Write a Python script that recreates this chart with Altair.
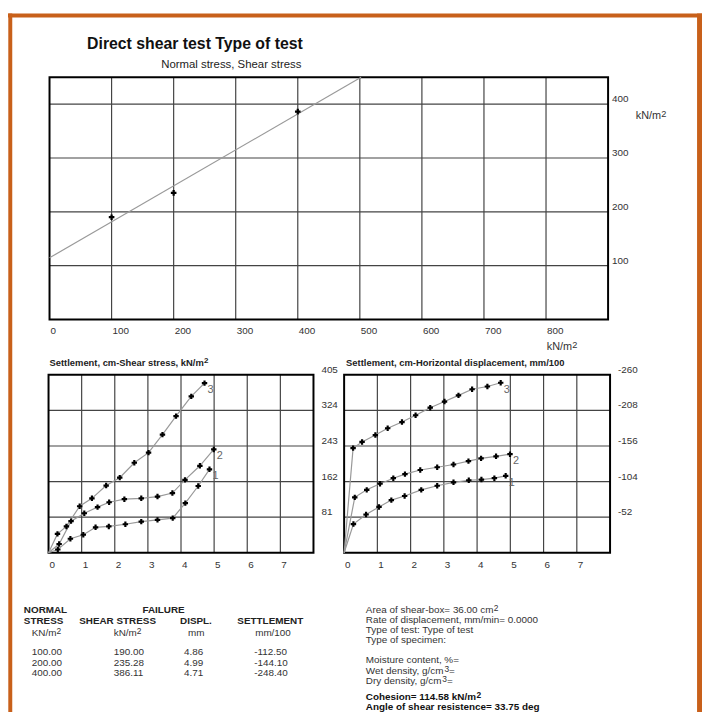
import altair as alt
import pandas as pd

# ---------------- data ----------------
normal_stress = [100.0, 200.0, 400.0]
failure_shear = [190.00, 235.28, 386.11]
failure_displ = [4.86, 4.99, 4.71]
failure_settle = [-112.50, -144.10, -248.40]
cohesion = 114.58
friction_angle = 33.75
shear_box_area = 36.00
rate_displ = 0.0

# failure envelope
fit_x = [0, 502]
fit_y = [114.58, 450]

# displacement readings (mm) per specimen
d1 = [0, 0.28, 0.66, 1.05, 1.42, 1.82, 2.32, 2.80, 3.29, 3.75, 4.13, 4.52, 4.86]
d2 = [0, 0.32, 0.68, 1.08, 1.48, 1.83, 2.29, 2.80, 3.29, 3.74, 4.12, 4.57, 4.99]
d3 = [0, 0.27, 0.54, 0.94, 1.31, 1.74, 2.15, 2.59, 3.02, 3.44, 3.85, 4.31, 4.71]
# shear stress kN/m2
s1 = [0, 7.5, 32, 41, 58, 60, 65, 71, 75, 79, 113, 152, 190.00]
s2 = [0, 20, 72, 90, 104, 115, 122, 124, 128, 136, 166, 198, 235.28]
s3 = [0, 43, 60, 106, 124, 153, 171, 205, 228, 269, 311, 356, 386.11]
# settlement mm/100
v1 = [0, -42, -56, -67, -77, -83, -92, -98, -103, -106, -107, -109, -112.50]
v2 = [0, -81, -92, -101, -109, -115, -121, -125, -129, -134, -138, -141, -144.10]
v3 = [0, -153, -162, -172, -182, -191, -201, -212, -221, -230, -239, -243, -248.40]
curve_ids = ["1", "2", "3"]

top_x_ticks = [0, 100, 200, 300, 400, 500, 600, 700, 800]
top_x_grid = [100, 200, 300, 400, 500, 600, 700, 800]
top_y_ticks = [100, 200, 300, 400]
bl_x_ticks = [0, 1, 2, 3, 4, 5, 6, 7]
bl_y_ticks = [81, 162, 243, 324, 405]
br_y_ticks = [-52, -104, -156, -208, -260]

# ---------------- style ----------------
FONT = "Liberation Sans"
GRID = "#444444"
TXT = "#333333"
ORANGE = "#C8601A"
W, H = 702, 708

TOP = dict(xd=[0, 900], yd=[0, 450], xr=[42, 607], yr=[311, 66])
BL = dict(xd=[0, 8], yd=[0, 405], xr=[41, 309], yr=[547, 367])
BR = dict(xd=[0, 8], yd=[-260, 0], xr=[340, 609], yr=[367, 547])

ONE = pd.DataFrame({"k": [0]})

# approximate Arial / Liberation Sans advance widths (per 1000 em)
REG = {" ": 278, "!": 278, "%": 889, ",": 278, "-": 333, ".": 278, "/": 278, ":": 278, "=": 584,
       "A": 667, "C": 722, "D": 722, "K": 667, "M": 833, "N": 722, "R": 722, "S": 667, "T": 611, "W": 944,
       "a": 556, "b": 556, "c": 500, "d": 556, "e": 556, "f": 278, "g": 556, "h": 556, "i": 222,
       "k": 500, "l": 222, "m": 833, "n": 556, "o": 556, "p": 556, "r": 333, "s": 500, "t": 278,
       "u": 556, "v": 500, "w": 722, "x": 500, "y": 500, "z": 500}
BOLD = {" ": 278, ",": 278, "-": 333, ".": 278, "/": 278, ":": 333, "=": 584,
        "A": 722, "C": 722, "H": 722, "N": 722, "S": 667, "K": 722,
        "a": 556, "c": 556, "d": 611, "e": 556, "f": 333, "g": 611, "h": 611, "i": 278, "k": 556,
        "l": 278, "m": 889, "n": 611, "o": 611, "p": 611, "r": 389, "s": 556, "t": 333, "u": 611,
        "y": 556, "z": 500}


def text_width(s, size, bold):
    tab = BOLD if bold else REG
    return sum(tab.get(ch, 556) for ch in s) * size / 1000.0


def xs(p):
    return alt.Scale(domain=p["xd"], range=p["xr"], nice=False, zero=False)


def ys(p):
    return alt.Scale(domain=p["yd"], range=p["yr"], nice=False, zero=False)


def grid(p, xg, yg):
    layers = []
    dv = pd.DataFrame({"v": xg, "lo": [p["yd"][0]] * len(xg), "hi": [p["yd"][1]] * len(xg)})
    layers.append(alt.Chart(dv).mark_rule(color=GRID, strokeWidth=1.2).encode(
        x=alt.X("v:Q", scale=xs(p), axis=None),
        y=alt.Y("lo:Q", scale=ys(p), axis=None), y2="hi:Q"))
    dh = pd.DataFrame({"v": yg, "lo": [p["xd"][0]] * len(yg), "hi": [p["xd"][1]] * len(yg)})
    layers.append(alt.Chart(dh).mark_rule(color=GRID, strokeWidth=1.2).encode(
        y=alt.Y("v:Q", scale=ys(p), axis=None),
        x=alt.X("lo:Q", scale=xs(p), axis=None), x2="hi:Q"))
    db = pd.DataFrame({"x0": [p["xd"][0]], "x1": [p["xd"][1]], "y0": [p["yd"][0]], "y1": [p["yd"][1]]})
    layers.append(alt.Chart(db).mark_rect(fillOpacity=0, stroke="black", strokeWidth=2).encode(
        x=alt.X("x0:Q", scale=xs(p), axis=None), x2="x1:Q",
        y=alt.Y("y0:Q", scale=ys(p), axis=None), y2="y1:Q"))
    return layers


def xlabels(p, ticks, ypix):
    df = pd.DataFrame({"v": ticks, "t": [str(t) for t in ticks]})
    return alt.Chart(df).mark_text(font=FONT, fontSize=10, color=TXT, align="left",
                                   baseline="middle", dx=1).encode(
        x=alt.X("v:Q", scale=xs(p), axis=None), y=alt.value(ypix), text="t:N")


def ylabels(p, ticks, xpix):
    df = pd.DataFrame({"v": ticks, "t": [str(t) for t in ticks]})
    return alt.Chart(df).mark_text(font=FONT, fontSize=10, color=TXT, align="left",
                                   baseline="middle", dy=-5).encode(
        y=alt.Y("v:Q", scale=ys(p), axis=None), x=alt.value(xpix), text="t:N")


def label(text, x, y, size=10, bold=False, color=TXT, align="left"):
    return alt.Chart(ONE).mark_text(text=text, font=FONT, fontSize=size,
                                    fontWeight="bold" if bold else "normal",
                                    color=color, align=align, baseline="middle").encode(
        x=alt.value(x), y=alt.value(y))


def rich(parts, x, y, size=10, bold=False, color=TXT):
    """parts: list of (text, is_superscript)."""
    out = []
    cx = x
    for t, sup in parts:
        sz = size * 0.85 if sup else size
        yy = y - 2 if sup else y
        out.append(label(t, cx, yy, size=sz, bold=bold, color=color))
        cx += text_width(t, sz, bold)
    return out


def curves(p, xs_list, ys_list):
    rows = []
    for cid, xv, yv in zip(curve_ids, xs_list, ys_list):
        for i, (a, b) in enumerate(zip(xv, yv)):
            rows.append({"c": cid, "i": i, "x": a, "y": b})
    df = pd.DataFrame(rows)
    enc = dict(x=alt.X("x:Q", scale=xs(p), axis=None), y=alt.Y("y:Q", scale=ys(p), axis=None))
    line = alt.Chart(df).mark_line(color="#999999", strokeWidth=1.2).encode(
        detail="c:N", order="i:Q", **enc)
    pts = alt.Chart(df).transform_filter("datum.i > 0").mark_point(
        shape="cross", filled=True, size=30, color="black", opacity=1).encode(**enc)
    ends = alt.Chart(df).transform_filter("datum.i == 12").mark_text(
        font=FONT, fontSize=11, color="#666666", align="left", baseline="middle", dx=3, dy=7).encode(
        text="c:N", **enc)
    return [line, pts, ends]


layers = []

# orange page frame
for (x0, x1, y0, y1) in [(0, W, 1.5, 5.5), (0.3, 4.3, 1.5, H), (697, 702, 1.5, H)]:
    layers.append(alt.Chart(ONE).mark_rect(color=ORANGE).encode(
        x=alt.value(x0), x2=alt.value(x1), y=alt.value(y0), y2=alt.value(y1)))

# ---- top chart ----
layers += grid(TOP, top_x_grid, top_y_ticks)
fit_df = pd.DataFrame({"x": fit_x, "y": fit_y})
layers.append(alt.Chart(fit_df).mark_line(color="#999999", strokeWidth=1.2).encode(
    x=alt.X("x:Q", scale=xs(TOP), axis=None), y=alt.Y("y:Q", scale=ys(TOP), axis=None)))
pts_df = pd.DataFrame({"x": normal_stress, "y": failure_shear})
layers.append(alt.Chart(pts_df).mark_point(shape="cross", filled=True, size=32, color="black", opacity=1).encode(
    x=alt.X("x:Q", scale=xs(TOP), axis=None), y=alt.Y("y:Q", scale=ys(TOP), axis=None)))
layers.append(xlabels(TOP, top_x_ticks, 323))
layers.append(ylabels(TOP, top_y_ticks, 611))
layers += rich([("kN/m", False), ("2", True)], 635, 105, size=11)
layers += rich([("kN/m", False), ("2", True)], 545, 339, size=11)
layers.append(label("Direct shear test Type of test", 80, 32, size=16, bold=True, color="#111111"))
layers.append(label("Normal stress, Shear stress", 155, 54, size=11.5, color="#222222"))

# ---- bottom-left chart ----
layers += grid(BL, bl_x_ticks[1:], bl_y_ticks[:-1])
layers += curves(BL, [d1, d2, d3], [s1, s2, s3])
layers.append(xlabels(BL, bl_x_ticks, 559))
layers.append(ylabels(BL, bl_y_ticks, 317))
layers += rich([("Settlement, cm-Shear stress, kN/m", False), ("2", True)], 42, 355, size=9.5,
               bold=True, color="#222222")

# ---- bottom-right chart ----
layers += grid(BR, bl_x_ticks[1:], br_y_ticks[:-1])
layers += curves(BR, [d1, d2, d3], [v1, v2, v3])
layers.append(xlabels(BR, bl_x_ticks, 559))
layers.append(ylabels(BR, br_y_ticks, 617))
layers.append(label("Settlement, cm-Horizontal displacement, mm/100", 342, 355, size=9.5, bold=True,
                    color="#222222"))

# ---- results table ----
layers.append(label("NORMAL", 16, 605, bold=True, color="#222222"))
layers.append(label("FAILURE", 136, 605, bold=True, color="#222222"))
layers.append(label("STRESS", 16, 616, bold=True, color="#222222"))
layers.append(label("SHEAR STRESS", 72, 616, bold=True, color="#222222"))
layers.append(label("DISPL.", 174, 616, bold=True, color="#222222"))
layers.append(label("SETTLEMENT", 232, 616, bold=True, color="#222222"))
layers += rich([("KN/m", False), ("2", True)], 24, 628)
layers += rich([("kN/m", False), ("2", True)], 107, 628)
layers.append(label("mm", 182, 628))
layers.append(label("mm/100", 250, 628))
for i, ypix in enumerate([647, 658, 669]):
    layers.append(label(f"{normal_stress[i]:.2f}", 24, ypix))
    layers.append(label(f"{failure_shear[i]:.2f}", 107, ypix))
    layers.append(label(f"{failure_displ[i]:.2f}", 178, ypix))
    layers.append(label(f"{failure_settle[i]:.2f}", 249, ypix))

info = [
    ([(f"Area of shear-box= {shear_box_area:.2f} cm", False), ("2", True)], 605, False),
    ([(f"Rate of displacement, mm/min= {rate_displ:.4f}", False)], 615, False),
    ([("Type of test:  Type of test", False)], 625, False),
    ([("Type of specimen:", False)], 635, False),
    ([("Moisture content, %=", False)], 655, False),
    ([("Wet density, g/cm", False), ("3", True), ("=", False)], 667, False),
    ([("Dry density, g/cm", False), ("3", True), ("=", False)], 677, False),
    ([(f"Cohesion= {cohesion:.2f} kN/m", False), ("2", True)], 693, True),
    ([(f"Angle of shear resistence= {friction_angle:.2f} deg", False)], 703, True),
]
for parts, ypix, b in info:
    layers += rich(parts, 362, ypix, bold=b, color="#111111" if b else TXT)

chart = alt.layer(*layers).resolve_scale(x="independent", y="independent").properties(
    width=W, height=H, padding=0, autosize=alt.AutoSizeParams(type="none"),
    background="white",
).configure_view(strokeWidth=0)

chart.save("out.html", embed_options={"renderer": "svg", "actions": False})
